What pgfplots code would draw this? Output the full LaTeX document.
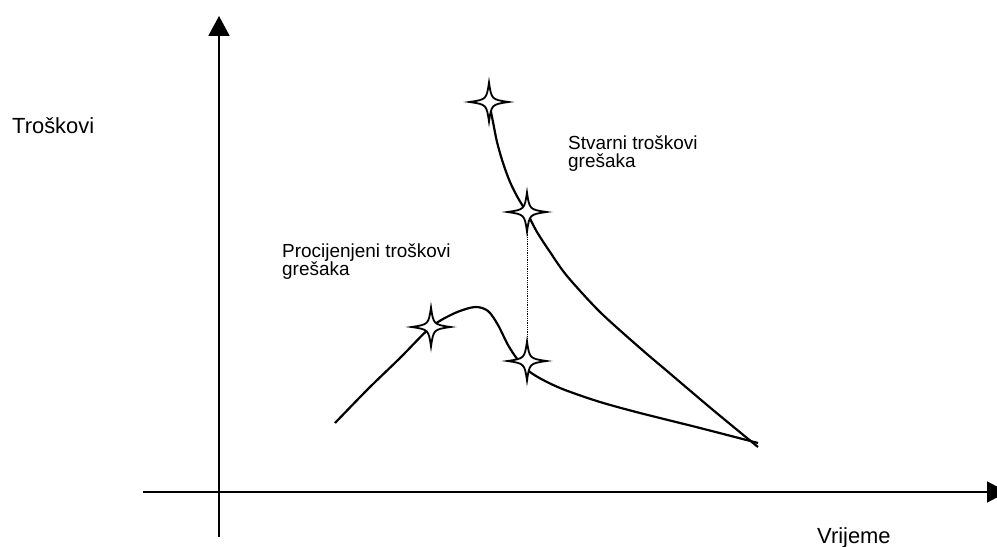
\documentclass[border=0pt]{standalone}
\usepackage{fontspec}
\setmainfont{Liberation Sans}
\usepackage{pgfplots}
\pgfplotsset{compat=1.18}
\usetikzlibrary{arrows.meta}
\pgfdeclareplotmark{sparkle}{%
  \pgfpathmoveto{\pgfqpoint{0pt}{\pgfplotmarksize}}%
  \pgfpathcurveto{\pgfqpoint{0.13\pgfplotmarksize}{0.13\pgfplotmarksize}}{\pgfqpoint{0.13\pgfplotmarksize}{0.13\pgfplotmarksize}}{\pgfqpoint{\pgfplotmarksize}{0pt}}%
  \pgfpathcurveto{\pgfqpoint{0.13\pgfplotmarksize}{-0.13\pgfplotmarksize}}{\pgfqpoint{0.13\pgfplotmarksize}{-0.13\pgfplotmarksize}}{\pgfqpoint{0pt}{-\pgfplotmarksize}}%
  \pgfpathcurveto{\pgfqpoint{-0.13\pgfplotmarksize}{-0.13\pgfplotmarksize}}{\pgfqpoint{-0.13\pgfplotmarksize}{-0.13\pgfplotmarksize}}{\pgfqpoint{-\pgfplotmarksize}{0pt}}%
  \pgfpathcurveto{\pgfqpoint{-0.13\pgfplotmarksize}{0.13\pgfplotmarksize}}{\pgfqpoint{-0.13\pgfplotmarksize}{0.13\pgfplotmarksize}}{\pgfqpoint{0pt}{\pgfplotmarksize}}%
  \pgfpathclose
  \pgfusepathqfillstroke
}
\begin{document}
\begin{tikzpicture}
\begin{axis}[
  name=a,
  x=1bp, y=1bp,
  xmin=0, xmax=997, ymin=0, ymax=547,
  y dir=reverse,
  hide axis,
  clip=false,
]
% axes
\addplot[black, line width=2bp, -{Triangle[length=20bp,width=21bp]}] coordinates {(219,537) (219,16)};
\addplot[black, line width=2bp, -{Triangle[length=20bp,width=21bp]}] coordinates {(143,492) (1007,492)};
% dotted connector
\addplot[black, line width=0.8bp, densely dotted] coordinates {(527,212) (527,361)};
% estimated costs
\addplot[black, line width=2.2bp, smooth, tension=0.5] coordinates {
 (335,423) (368,389) (400,358) (431,327) (455,313) (475,307) (488,311)
 (498,325) (508,345) (518,360) (530,372) (545,381) (565,390) (600,402)
 (640,413) (700,428) (758,443)};
% actual costs
\addplot[black, line width=2.2bp, smooth, tension=0.5] coordinates {
 (489,102) (493,122) (497,142) (503,163) (510,182) (518,198) (527,213)
 (537,232) (550,252) (567,276) (600,312) (640,348) (667,371) (713,410) (758,447)};
% star marks
\addplot[only marks, mark=sparkle, mark size=19.5bp,
  mark options={fill=white, draw=black, line width=1.8bp}] coordinates {
 (489,102) (527,212) (431,327) (527,361)};
% labels
\node[anchor=base west, inner sep=0pt, font=\fontsize{22}{26}\selectfont] at (axis cs:12,134) {Troškovi};
\node[anchor=base west, inner sep=0pt, font=\fontsize{22}{26}\selectfont] at (axis cs:817,543) {Vrijeme};
\node[anchor=base west, inner sep=0pt, font=\fontsize{19}{22}\selectfont] at (axis cs:282,258) {Procijenjeni troškovi};
\node[anchor=base west, inner sep=0pt, font=\fontsize{19}{22}\selectfont] at (axis cs:282,276) {grešaka};
\node[anchor=base west, inner sep=0pt, font=\fontsize{19}{22}\selectfont] at (axis cs:568,150) {Stvarni troškovi};
\node[anchor=base west, inner sep=0pt, font=\fontsize{19}{22}\selectfont] at (axis cs:568,168) {grešaka};
\end{axis}
\pgfresetboundingbox
\path[use as bounding box] (a.south west) rectangle (a.north east);
\end{tikzpicture}
\end{document}
